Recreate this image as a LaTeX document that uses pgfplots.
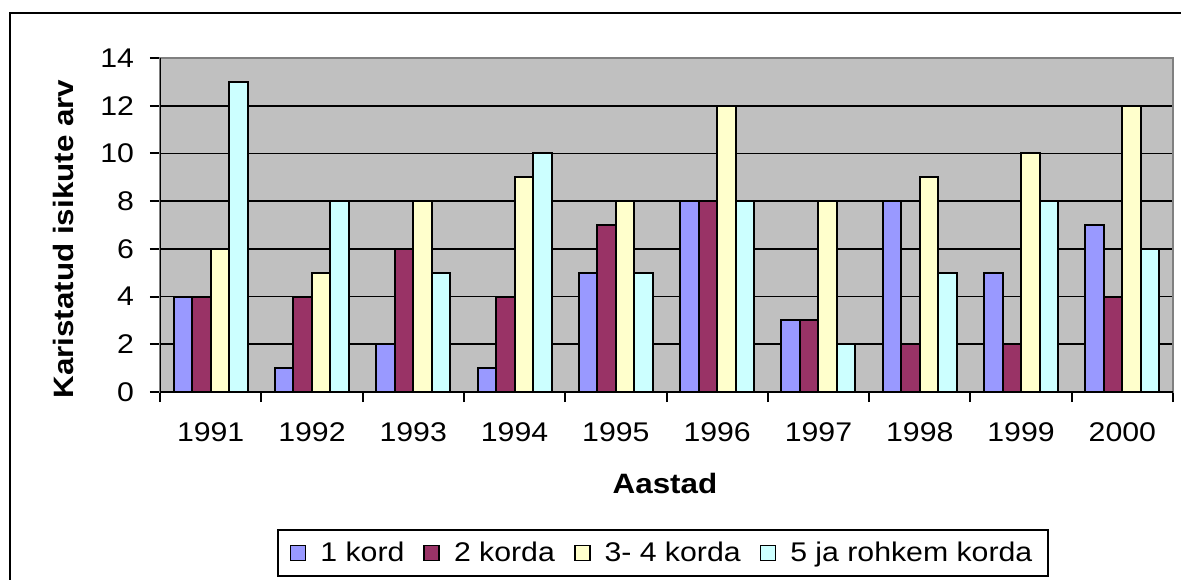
\documentclass[border=0pt]{standalone}
\usepackage{pgfplots}
\pgfplotsset{compat=1.18}
\usepackage{fontspec}
\setmainfont{Liberation Sans}[FakeStretch=1.12]
\definecolor{cA}{HTML}{9999FF}
\definecolor{cB}{HTML}{993366}
\definecolor{cC}{HTML}{FFFFCC}
\definecolor{cD}{HTML}{CCFFFF}
\definecolor{plotgray}{HTML}{C0C0C0}
\definecolor{edgegray}{HTML}{808080}
\begin{document}
\begin{tikzpicture}
\useasboundingbox (0pt,0pt) rectangle (590.5pt,289.5pt);
\draw[line width=1.2pt] (5pt,-10pt) -- (5pt,283pt) -- (600pt,283pt);
\begin{axis}[
  at={(80pt,93.5pt)}, anchor=south west,
  scale only axis, width=506.5pt, height=167pt,
  ybar=0pt, bar width=9.25pt,
  xmin=-0.5, xmax=9.5, ymin=0, ymax=14,
  xtick={0,...,9},
  xticklabels={1991,1992,1993,1994,1995,1996,1997,1998,1999,2000},
  ytick={0,2,...,14},
  minor xtick={-0.5,0.5,...,9.5},
  tick pos=left,
  tick align=outside,
  major tick length=5pt, minor tick length=5pt,
  major x tick style={draw=none},
  tick style={black, line width=1pt},
  ymajorgrids, xmajorgrids=false,
  major grid style={black, line width=0.9pt},
  axis background/.style={fill=plotgray},
  axis line style={draw=edgegray, line width=1.2pt},
  ticklabel style={font=\fontsize{13.5}{16}\selectfont},
  xticklabel style={yshift=-7pt},
  yticklabel style={xshift=-4.5pt},
  /pgf/number format/assume math mode=true,
  xlabel={Aastad},
  ylabel={Karistatud isikute arv},
  label style={font=\bfseries\fontsize{14}{16}\selectfont},
  xlabel style={at={(axis description cs:0.4985,-0.2725)}, anchor=center},
  ylabel style={at={(axis description cs:-0.0953,0.458)}, anchor=center},
  legend columns=4,
  legend style={at={(axis description cs:0.4966,-0.482)}, anchor=center,
    draw=black, line width=1pt, font=\fontsize{13.5}{16}\selectfont,
    inner xsep=6pt, inner ysep=4pt,
    /tikz/every odd column/.append style={column sep=5pt},
    /tikz/every even column/.append style={column sep=7.5pt}},
  legend image code/.code={\draw[#1, line width=0.8pt] (0pt,-3.8pt) rectangle (7.5pt,3.8pt);},
  every axis plot/.append style={draw=black, line width=1pt},
]
\addplot[fill=cA] coordinates {(0,4) (1,1) (2,2) (3,1) (4,5) (5,8) (6,3) (7,8) (8,5) (9,7)};
\addplot[fill=cB] coordinates {(0,4) (1,4) (2,6) (3,4) (4,7) (5,8) (6,3) (7,2) (8,2) (9,4)};
\addplot[fill=cC] coordinates {(0,6) (1,5) (2,8) (3,9) (4,8) (5,12) (6,8) (7,9) (8,10) (9,12)};
\addplot[fill=cD] coordinates {(0,13) (1,8) (2,5) (3,10) (4,5) (5,8) (6,2) (7,5) (8,8) (9,6)};
\legend{1 kord, 2 korda, 3- 4 korda, 5 ja rohkem korda}
\draw[black, line width=1.2pt] (rel axis cs:0,1) -- (rel axis cs:0,0) -- (rel axis cs:1,0);
\end{axis}
\end{tikzpicture}
\end{document}
